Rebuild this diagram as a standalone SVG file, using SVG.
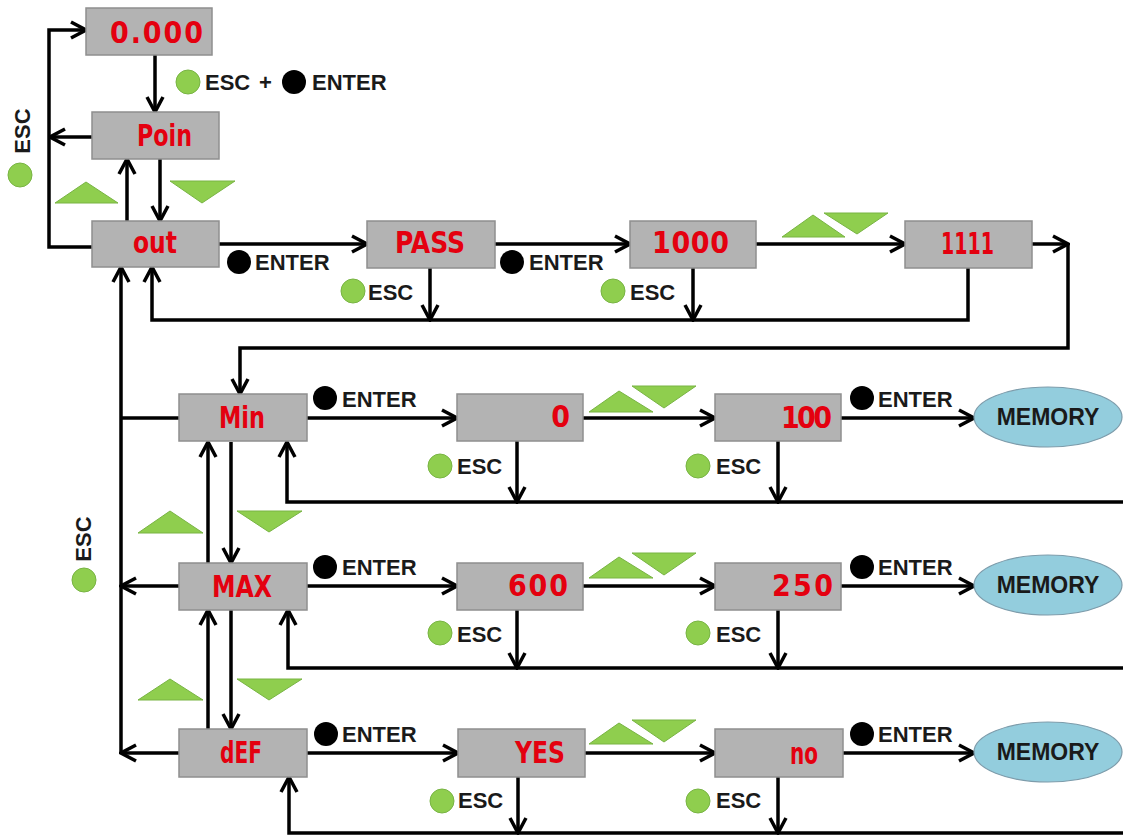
<svg xmlns="http://www.w3.org/2000/svg" width="1123" height="836" viewBox="0 0 1123 836">
<defs>
<style>
.box{fill:#b3b3b3;stroke:#8f8f8f;stroke-width:1.5}
.disp{font-family:"DejaVu Sans Condensed","DejaVu Sans",sans-serif;font-weight:bold;font-size:30px;fill:#e4000f}
.lbl{font-family:"Liberation Sans",Arial,sans-serif;font-weight:bold;font-size:22px;fill:#1a1a1a}
.g{fill:#8fce4e;stroke:#78b443;stroke-width:1}
.k{fill:#000}
.ln{stroke:#000;stroke-width:3.5;fill:none}
.a{marker-end:url(#ah)}
.mem{fill:#93cddd;stroke:#7d9cab;stroke-width:1.2}
.memt{font-family:"Liberation Sans",Arial,sans-serif;font-weight:bold;font-size:23px;fill:#1a1a1a;text-anchor:middle}
</style>
<marker id="ah" viewBox="0 0 20 20" refX="18" refY="10" markerWidth="20" markerHeight="20" markerUnits="userSpaceOnUse" orient="auto">
<path d="M3,2 L18,10 L3,18" fill="none" stroke="#000" stroke-width="3.5"/>
</marker>
</defs>
<rect width="1123" height="836" fill="#fff"/>

<g id="connectors">
<path class="ln a" d="M92,247 H49 V30 H86"/>
<path class="ln a" d="M92,137 H50"/>
<path class="ln a" d="M155,55 V112"/>
<path class="ln a" d="M127,221 V159"/>
<path class="ln a" d="M160,159 V221"/>
<path class="ln a" d="M219,244 H367"/>
<path class="ln a" d="M495,244 H630"/>
<path class="ln a" d="M756,244 H905"/>
<path class="ln a" d="M1032,244 H1068"/>
<path class="ln a" d="M1068,244 V348 H240 V394"/>
<path class="ln a" d="M430,268 V320"/>
<path class="ln a" d="M693,268 V320"/>
<path class="ln a" d="M968,268 V320 H152 V267"/>
<path class="ln a" d="M121,753 V267"/>
<path class="ln" d="M179,418 H121"/>
<path class="ln a" d="M179,586 H121"/>
<path class="ln a" d="M179,753 H121"/>
<path class="ln a" d="M307,418 H457"/>
<path class="ln a" d="M583,418 H715"/>
<path class="ln a" d="M841,418 H974"/>
<path class="ln a" d="M517,441 V502"/>
<path class="ln a" d="M778,441 V502"/>
<path class="ln a" d="M1123,502 H287 V442"/>
<path class="ln a" d="M208,563 V442"/>
<path class="ln a" d="M231,442 V563"/>
<path class="ln a" d="M307,586 H457"/>
<path class="ln a" d="M583,586 H715"/>
<path class="ln a" d="M841,586 H974"/>
<path class="ln a" d="M517,610 V668"/>
<path class="ln a" d="M778,610 V668"/>
<path class="ln a" d="M1123,668 H288 V610"/>
<path class="ln a" d="M208,729 V610"/>
<path class="ln a" d="M231,610 V729"/>
<path class="ln a" d="M307,753 H458"/>
<path class="ln a" d="M585,753 H715"/>
<path class="ln a" d="M843,753 H974"/>
<path class="ln a" d="M518,777 V833"/>
<path class="ln a" d="M778,777 V833"/>
<path class="ln a" d="M1123,833 H289 V777"/>
</g>

<g id="triangles">
<polygon class="g" points="55,203 86,182 118,203"/>
<polygon class="g" points="170,181 235,181 202,203"/>
<polygon class="g" points="782,237 813,215 845,237"/>
<polygon class="g" points="824,213 888,213 857,234"/>
<polygon class="g" points="138,533 170,511 203,533"/>
<polygon class="g" points="237,511 302,511 269,532"/>
<polygon class="g" points="589,412 619,391 653,412"/>
<polygon class="g" points="632,386 696,386 664,408"/>
<polygon class="g" points="138,700 170,679 203,700"/>
<polygon class="g" points="237,679 302,679 269,700"/>
<polygon class="g" points="589,578 619,557 653,578"/>
<polygon class="g" points="632,553 696,553 664,575"/>
<polygon class="g" points="589,744 619,723 653,744"/>
<polygon class="g" points="632,720 696,720 664,742"/>
</g>

<g id="n-0000"><rect class="box" x="86" y="8" width="126" height="47"/><text class="disp" x="110" y="43" textLength="93" lengthAdjust="spacing">0.000</text></g>
<g id="n-poin"><rect class="box" x="92" y="112" width="127" height="47"/><text class="disp" x="137" y="146" textLength="55" lengthAdjust="spacingAndGlyphs">Poin</text></g>
<g id="n-out"><rect class="box" x="92" y="221" width="127" height="46"/><text class="disp" x="133" y="253" textLength="44" lengthAdjust="spacingAndGlyphs">out</text></g>
<g id="n-pass"><rect class="box" x="367" y="221" width="128" height="47"/><text class="disp" x="395" y="253" textLength="70" lengthAdjust="spacingAndGlyphs">PASS</text></g>
<g id="n-1000"><rect class="box" x="630" y="221" width="126" height="47"/><text class="disp" x="652" y="253" textLength="77" lengthAdjust="spacing">1000</text></g>
<g id="n-1111"><rect class="box" x="905" y="221" width="127" height="47"/><text class="disp" x="941" y="254" textLength="53" lengthAdjust="spacingAndGlyphs">1111</text></g>
<g id="n-min"><rect class="box" x="179" y="394" width="128" height="47"/><text class="disp" x="219" y="428" textLength="46" lengthAdjust="spacingAndGlyphs">Min</text></g>
<g id="n-0"><rect class="box" x="457" y="394" width="126" height="47"/><text class="disp" x="570" y="427" text-anchor="end">0</text></g>
<g id="n-100"><rect class="box" x="715" y="394" width="126" height="47"/><text class="disp" x="781" y="428" textLength="51" lengthAdjust="spacing">100</text></g>
<g id="n-max"><rect class="box" x="179" y="563" width="128" height="47"/><text class="disp" x="212" y="597" textLength="60" lengthAdjust="spacingAndGlyphs">MAX</text></g>
<g id="n-600"><rect class="box" x="457" y="563" width="126" height="47"/><text class="disp" x="508" y="596" textLength="60" lengthAdjust="spacing">600</text></g>
<g id="n-250"><rect class="box" x="715" y="563" width="126" height="47"/><text class="disp" x="772" y="596" textLength="61" lengthAdjust="spacing">250</text></g>
<g id="n-def"><rect class="box" x="179" y="729" width="128" height="48"/><text class="disp" x="220" y="763" textLength="42" lengthAdjust="spacingAndGlyphs">dEF</text></g>
<g id="n-yes"><rect class="box" x="458" y="729" width="127" height="48"/><text class="disp" x="515" y="763" textLength="50" lengthAdjust="spacingAndGlyphs">YES</text></g>
<g id="n-no"><rect class="box" x="715" y="729" width="128" height="48"/><text class="disp" x="790" y="764" textLength="28" lengthAdjust="spacingAndGlyphs">no</text></g>

<g id="n-mem1"><ellipse class="mem" cx="1048" cy="417" rx="74" ry="30"/><text class="memt" x="1048" y="425">MEMORY</text></g>
<g id="n-mem2"><ellipse class="mem" cx="1048" cy="585" rx="74" ry="30"/><text class="memt" x="1048" y="593">MEMORY</text></g>
<g id="n-mem3"><ellipse class="mem" cx="1048" cy="752" rx="74" ry="30"/><text class="memt" x="1048" y="760">MEMORY</text></g>

<g id="labels">
<circle class="g" cx="188" cy="82" r="12"/><text class="lbl" x="205" y="90">ESC</text><text class="lbl" x="259" y="90">+</text>
<circle class="k" cx="294" cy="82" r="12"/><text class="lbl" x="312" y="90">ENTER</text>
<text class="lbl" transform="translate(30,131) rotate(-90)" text-anchor="middle">ESC</text><circle class="g" cx="20" cy="175" r="12"/>
<text class="lbl" transform="translate(91,539) rotate(-90)" text-anchor="middle">ESC</text><circle class="g" cx="84" cy="580" r="12"/>
<circle class="k" cx="239" cy="262" r="12"/><text class="lbl" x="255" y="270">ENTER</text>
<circle class="k" cx="512" cy="262" r="12"/><text class="lbl" x="529" y="270">ENTER</text>
<circle class="g" cx="353" cy="291" r="12"/><text class="lbl" x="368" y="300">ESC</text>
<circle class="g" cx="613" cy="291" r="12"/><text class="lbl" x="630" y="300">ESC</text>
<circle class="k" cx="325" cy="398" r="12"/><text class="lbl" x="342" y="407">ENTER</text>
<circle class="k" cx="862" cy="398" r="12"/><text class="lbl" x="878" y="407">ENTER</text>
<circle class="g" cx="440" cy="466" r="12"/><text class="lbl" x="457" y="474">ESC</text>
<circle class="g" cx="698" cy="466" r="12"/><text class="lbl" x="716" y="474">ESC</text>
<circle class="k" cx="325" cy="567" r="12"/><text class="lbl" x="342" y="575">ENTER</text>
<circle class="k" cx="862" cy="567" r="12"/><text class="lbl" x="878" y="575">ENTER</text>
<circle class="g" cx="440" cy="633" r="12"/><text class="lbl" x="457" y="642">ESC</text>
<circle class="g" cx="698" cy="633" r="12"/><text class="lbl" x="716" y="642">ESC</text>
<circle class="k" cx="326" cy="734" r="12"/><text class="lbl" x="342" y="742">ENTER</text>
<circle class="k" cx="862" cy="734" r="12"/><text class="lbl" x="878" y="742">ENTER</text>
<circle class="g" cx="442" cy="801" r="12"/><text class="lbl" x="458" y="808">ESC</text>
<circle class="g" cx="698" cy="801" r="12"/><text class="lbl" x="716" y="808">ESC</text>
</g>
</svg>
